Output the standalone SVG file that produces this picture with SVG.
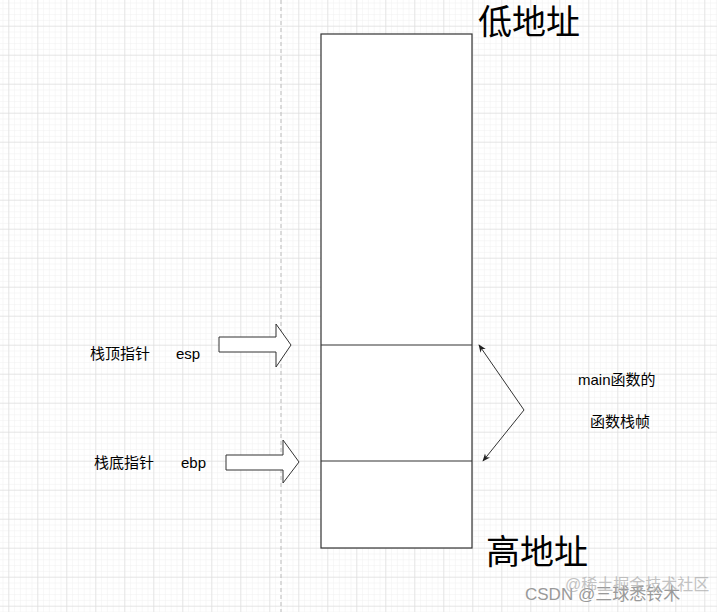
<svg xmlns="http://www.w3.org/2000/svg" width="717" height="612" viewBox="0 0 717 612">
<defs>
<pattern id="minor" x="8.3" y="25.7" width="5.8" height="5.8" patternUnits="userSpaceOnUse"><path d="M0 0V5.8M0 0H5.8" stroke="#efefef" stroke-width="1" fill="none"/></pattern>
<pattern id="major" x="8.3" y="25.7" width="29" height="29" patternUnits="userSpaceOnUse"><path d="M0 0V29M0 0H29" stroke="#d6d6d6" stroke-width="1" fill="none"/></pattern>
<marker id="ah" viewBox="0 0 10 10" refX="9" refY="5" markerWidth="8" markerHeight="8" orient="auto-start-reverse"><path d="M0 1L10 5L0 9L3 5Z" fill="#222"/></marker>
<style>
.t{font-family:"Liberation Sans","Noto Sans CJK SC",sans-serif;fill:#000}
.s{font-size:15px}
.b{font-size:34px}
.box{fill:#fff;stroke:#333;stroke-width:1.2}
.bar{fill:#fff;stroke:#333;stroke-width:1}
</style>
</defs>
<rect width="717" height="612" fill="#fff"/>
<rect width="717" height="612" fill="url(#minor)"/>
<rect width="717" height="612" fill="url(#major)"/>
<line x1="281" y1="0" x2="281" y2="612" stroke="#bbb" stroke-dasharray="4,3"/>
<g id="stack">
<rect class="box" x="321" y="34" width="151" height="514"/>
<line x1="321" y1="345" x2="472" y2="345" stroke="#333" stroke-width="1.2"/>
<line x1="321" y1="461" x2="472" y2="461" stroke="#333" stroke-width="1.2"/>
</g>
<g id="low"><text class="t b" x="478" y="34">低地址</text></g>
<g id="high"><text class="t b" x="486" y="564">高地址</text></g>
<g id="esp"><text class="t s" x="90" y="359">栈顶指针</text><text class="t s" x="176" y="359">esp</text>
<path class="bar" d="M219 337H276V324L291 345L276 367V352H219Z"/></g>
<g id="ebp"><text class="t s" x="94" y="468">栈底指针</text><text class="t s" x="181" y="468">ebp</text>
<path class="bar" d="M226 455H283V440L299 462L283 483V470H226Z"/></g>
<g id="frame"><text class="t s" x="578" y="385">main函数的</text><text class="t s" x="590" y="427">函数栈帧</text></g>
<g id="connectors">
<polyline points="479,345 524,410 483,461" fill="none" stroke="#333" stroke-width="1" marker-start="url(#ah)" marker-end="url(#ah)"/>
</g>
<text class="t" x="525" y="600" font-size="17" style="fill:#999">CSDN @三球悉铃木</text>
<text class="t" x="565" y="590" font-size="16" style="fill:#aaa" opacity="0.7">@稀土掘金技术社区</text>
</svg>
